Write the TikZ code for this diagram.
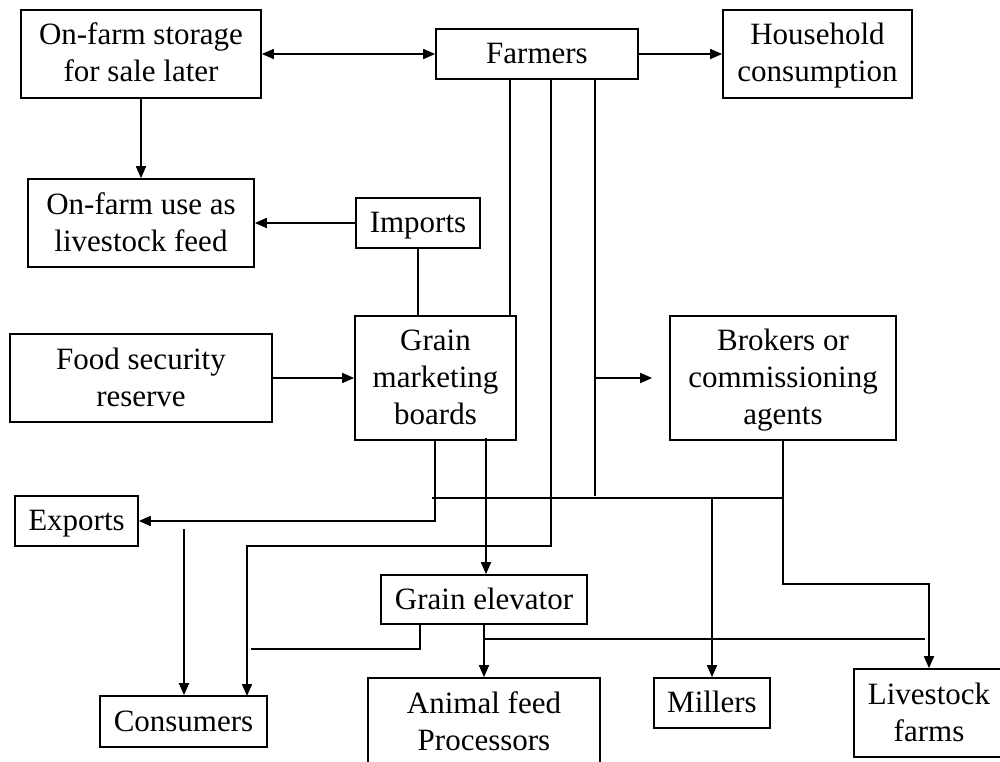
\documentclass[tikz,border=0pt]{standalone}
\usepackage{fontspec}
\setmainfont{Liberation Serif}
\usetikzlibrary{arrows.meta,calc}
% line strut: keeps every text line at the same height and depth
\newcommand{\ls}{\rule[-9pt]{0pt}{37pt}}
\begin{document}
\begin{tikzpicture}[x=1pt,y=-1pt,
  line width=1.7pt,
  box/.style={draw, line width=1.7pt, align=center, inner sep=0pt,
    font=\fontsize{31}{37}\selectfont},
  flow/.style={-{Triangle[length=12pt,width=10pt]}},
  both/.style={{Triangle[length=12pt,width=10pt]}-{Triangle[length=12pt,width=10pt]}}]
\useasboundingbox (0,0) rectangle (1000,762);
\clip (0,0) rectangle (1000,762);

% boxes
\node[box, minimum width=240pt, minimum height=88pt] (storage) at (141,54) {\ls On-farm storage\\\ls for sale later};
\node[box, minimum width=202pt, minimum height=50pt] (farmers) at (537,54) {\ls Farmers};
\node[box, minimum width=189pt, minimum height=88pt] (household) at (817.5,54) {\ls Household\\\ls consumption};
\node[box, minimum width=226pt, minimum height=88pt] (onfarm) at (141,223) {\ls On-farm use as\\\ls livestock feed};
\node[box, minimum width=124pt, minimum height=50pt] (imports) at (418,223) {\ls Imports};
\node[box, minimum width=262pt, minimum height=88pt] (food) at (141,378) {\ls Food security\\\ls reserve};
\node[box, minimum width=161pt, minimum height=124pt] (gmb) at (435.5,378) {\ls Grain\\\ls marketing\\\ls boards};
\node[box, minimum width=226pt, minimum height=124pt] (brokers) at (783,378) {\ls Brokers or\\\ls commissioning\\\ls agents};
\node[box, minimum width=123pt, minimum height=50pt] (exports) at (76.5,521) {\ls Exports};
\node[box, minimum width=206pt, minimum height=49pt] (elevator) at (484,599.5) {\ls Grain elevator};
\node[box, minimum width=167pt, minimum height=51pt] (consumers) at (183.5,721.5) {\ls Consumers};
\node[box, minimum width=232pt, minimum height=88pt] (animal) at (484,722) {\ls Animal feed\\\ls Processors};
\node[box, minimum width=116pt, minimum height=50pt] (millers) at (712,703) {\ls Millers};
\node[box, minimum width=150pt, minimum height=88pt] (livestock) at (929,713) {\ls Livestock\\\ls farms};

% junction and free-end points
\coordinate (f1) at (510,79);
\coordinate (f2) at (551,79);
\coordinate (f3) at (595,79);
\coordinate (f3end) at (595,496);
\coordinate (f3brk) at (595,378);
\coordinate (f2turn) at (551,546);
\coordinate (consIn) at (247,696);
\coordinate (gmbExp) at (435,440);
\coordinate (gmbElev) at (486,438);
\coordinate (hStart) at (432,498);
\coordinate (hEnd) at (783,498);
\coordinate (brkTurn) at (783,584);
\coordinate (millFrom) at (712,498);
\coordinate (expCons) at (184,529);
\coordinate (elevLeft) at (420,624);
\coordinate (elevLeftEnd) at (251,649);
\coordinate (elevOut) at (484,639);
\coordinate (elevOutEnd) at (925,639);

% connectors
\draw[both] (storage) -- (farmers);
\draw[flow] (farmers) -- (household);
\draw[flow] (storage) -- (onfarm);
\draw[flow] (imports) -- (onfarm);
\draw (imports.south) -- (imports.south |- gmb.north);
\draw (f1) -- (f1 |- gmb.north);
\draw[flow] (f2) -- (f2turn) -| (consIn);
\draw (f3) -- (f3end);
\draw[flow, shorten >=17pt] (f3brk) -- (brokers.west);
\draw[flow] (food) -- (gmb);
\draw[flow] (gmbExp) |- (exports.east);
\draw[flow] (gmbElev) -- (gmbElev |- elevator.north);
\draw (hStart) -- (hEnd);
\draw[flow] (brokers.south) -- (brkTurn) -| (livestock.north);
\draw[flow] (millFrom) -- (millers.north);
\draw[flow] (expCons) -- (expCons |- consumers.north);
\draw (elevLeft) |- (elevLeftEnd);
\draw[flow] (elevator.south) -- (animal.north);
\draw (elevOut) -- (elevOutEnd);
\end{tikzpicture}
\end{document}
